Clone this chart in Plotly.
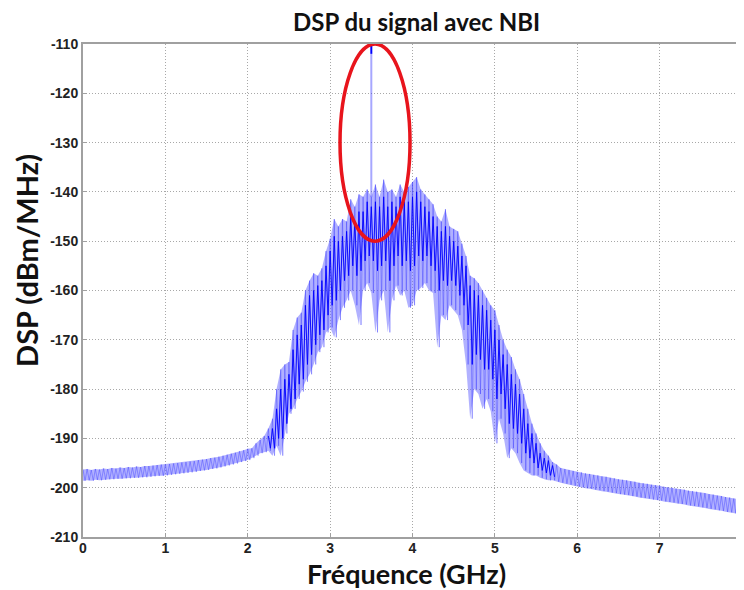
import plotly.graph_objects as go

# sampling grid of the spectrum (GHz), one step = 0.05 GHz
freq = [round(i * 0.05, 2) for i in range(161)]

# outer (light) envelope of the PSD, dBm/MHz
dsp_hi = [
    -196.3, -196.2, -196.4, -196.2, -196.3, -196.1, -196.2, -196.0, -196.1, -195.9,
    -196.0, -195.8, -195.9, -195.7, -195.8, -195.6, -195.6, -195.5, -195.4, -195.3,
    -195.3, -195.2, -195.1, -195.0, -194.9, -194.8, -194.7, -194.6, -194.4, -194.3,
    -194.2, -194.0, -193.9, -193.7, -193.5, -193.3, -193.1, -192.9, -192.6, -192.4,
    -192.1, -192.0, -191.0, -190.3, -189.5, -188.0, -186.0, -180.0, -176.0, -175.0,
    -174.5, -168.0, -165.5, -164.5, -160.0, -158.0, -156.5, -157.0, -155.5, -152.0,
    -149.5, -145.5, -147.0, -145.5, -146.0, -141.5, -143.0, -140.5, -141.0, -139.5,
    -141.0, -138.5, -141.0, -137.5, -140.0, -139.5, -141.0, -138.5, -140.0, -139.0,
    -138.0, -137.0, -139.5, -140.5, -141.5, -142.5, -145.0, -146.0, -143.5, -147.0,
    -147.5, -148.0, -150.5, -153.0, -157.0, -157.5, -158.5, -160.0, -161.5, -163.0,
    -164.0, -167.0, -170.0, -172.0, -173.5, -176.0, -178.0, -181.0, -184.0, -187.0,
    -189.0, -191.0, -192.5, -193.5, -194.8, -195.3, -196.0, -196.2, -196.4, -196.6,
    -196.8, -196.9, -197.1, -197.2, -197.4, -197.5, -197.7, -197.8, -198.0, -198.1,
    -198.3, -198.4, -198.5, -198.7, -198.8, -199.0, -199.1, -199.2, -199.4, -199.5,
    -199.6, -199.8, -199.9, -200.0, -200.2, -200.3, -200.4, -200.6, -200.7, -200.8,
    -201.0, -201.1, -201.3, -201.4, -201.6, -201.7, -201.9, -202.0, -202.2, -202.3,
    -202.5,
]
dsp_lo = [
    -198.6, -198.5, -198.6, -198.4, -198.5, -198.4, -198.3, -198.3, -198.2, -198.2,
    -198.1, -198.1, -198.0, -198.0, -197.9, -197.9, -197.8, -197.7, -197.6, -197.6,
    -197.5, -197.4, -197.3, -197.2, -197.1, -197.0, -196.9, -196.8, -196.6, -196.5,
    -196.4, -196.2, -196.1, -195.9, -195.7, -195.5, -195.3, -195.1, -194.8, -194.6,
    -194.4, -194.0, -193.5, -193.0, -192.8, -192.5, -193.5, -191.5, -193.5, -189.0,
    -185.0, -184.0, -182.0, -180.5, -178.5, -177.0, -175.0, -172.5, -171.5, -168.5,
    -167.5, -169.5, -166.0, -163.5, -162.0, -160.0, -163.0, -167.0, -160.0, -158.5,
    -160.5, -168.5, -162.0, -160.0, -168.5, -162.0, -159.0, -161.0, -160.0, -163.5,
    -163.0, -160.0, -159.5, -158.5, -160.0, -160.5, -171.5, -165.0, -166.0, -163.0,
    -164.0, -165.0, -168.0, -175.0, -186.0, -180.0, -181.0, -184.0, -182.0, -184.5,
    -191.0, -186.0, -189.0, -194.0, -192.0, -193.0, -195.0, -196.5, -197.0, -197.5,
    -197.5, -198.0, -198.3, -198.5, -198.5, -198.8, -199.0, -199.2, -199.4, -199.6,
    -199.8, -199.9, -200.1, -200.2, -200.4, -200.5, -200.7, -200.8, -201.0, -201.1,
    -201.3, -201.4, -201.5, -201.7, -201.8, -202.0, -202.1, -202.2, -202.4, -202.5,
    -202.6, -202.8, -202.9, -203.0, -203.2, -203.3, -203.4, -203.6, -203.7, -203.8,
    -204.0, -204.1, -204.3, -204.4, -204.6, -204.7, -204.9, -205.0, -205.2, -205.3,
    -205.5,
]

# dense (dark) core of the noisy band, 2.25 .. 5.70 GHz
core_freq = [round(2.25 + i * 0.05, 2) for i in range(70)]
core_hi = [
    -189.5, -188.0, -184.0, -180.0, -178.0, -177.0, -172.0, -169.0, -167.0, -163.0,
    -161.0, -160.0, -159.0, -158.0, -155.0, -152.0, -149.0, -150.0, -149.0, -148.0,
    -145.0, -146.0, -144.0, -144.0, -142.0, -143.0, -142.0, -143.0, -141.0, -143.0,
    -142.0, -143.0, -141.0, -142.0, -142.0, -141.0, -140.0, -142.0, -143.0, -144.0,
    -145.0, -147.0, -148.0, -147.0, -149.0, -150.0, -151.0, -153.0, -155.0, -159.0,
    -160.0, -161.0, -163.0, -164.0, -166.0, -168.0, -170.0, -173.0, -175.0, -177.0,
    -179.0, -181.0, -184.0, -187.0, -189.0, -191.0, -193.0, -194.0, -194.5, -195.5,
]
core_lo = [
    -192.0, -192.0, -190.0, -190.0, -187.0, -184.0, -182.0, -179.0, -178.0, -175.0,
    -173.0, -171.0, -169.0, -168.0, -165.0, -163.0, -162.0, -160.0, -158.0, -157.0,
    -155.0, -157.0, -156.0, -154.0, -153.0, -154.0, -156.0, -155.0, -154.0, -158.0,
    -155.0, -153.0, -155.0, -154.0, -156.0, -155.0, -153.0, -154.0, -153.0, -155.0,
    -156.0, -160.0, -158.0, -159.0, -158.0, -159.0, -161.0, -163.0, -167.0, -175.0,
    -173.0, -174.0, -176.0, -176.0, -178.0, -182.0, -181.0, -184.0, -187.0, -188.0,
    -189.0, -191.0, -193.0, -194.0, -195.0, -196.0, -196.5, -197.0, -197.5, -197.8,
]

# narrow-band interferer (NBI)
nbi_freq = 3.50
nbi_base = -141.0
nbi_peak = -112.0

x_ticks = [0, 1, 2, 3, 4, 5, 6, 7, 8]
y_ticks = [-210, -200, -190, -180, -170, -160, -150, -140, -130, -120, -110]
y_labels = ["-210", "-200", "-190", "-180", "-170", "-160", "-150", "-140", "-130", "-120", "-110"]


def zigzag(f, hi, lo, step=0.025):
    xs, ys = [], []
    for fi, h, l in zip(f, hi, lo):
        xs += [fi, fi + step]
        ys += [h, l]
    return xs, ys


fig = go.Figure()

# light envelope as a filled band
fig.add_trace(go.Scatter(x=freq, y=dsp_lo, mode="lines", line=dict(width=0),
                         showlegend=False, hoverinfo="skip"))
fig.add_trace(go.Scatter(x=freq, y=dsp_hi, mode="lines", line=dict(width=0),
                         fill="tonexty", fillcolor="rgba(100,100,255,0.5)",
                         showlegend=False, hoverinfo="skip"))

zx, zy = zigzag(freq, dsp_hi, dsp_lo)
fig.add_trace(go.Scatter(x=zx, y=zy, mode="lines",
                         line=dict(color="rgba(40,40,255,0.35)", width=1),
                         showlegend=False, hoverinfo="skip"))

cx, cy = zigzag(core_freq, core_hi, core_lo)
fig.add_trace(go.Scatter(x=cx, y=cy, mode="lines",
                         line=dict(color="rgba(0,0,255,0.9)", width=1),
                         showlegend=False, hoverinfo="skip"))

fig.add_trace(go.Scatter(x=[nbi_freq, nbi_freq], y=[nbi_base, nbi_peak], mode="lines",
                         line=dict(color="rgba(60,60,255,0.45)", width=2),
                         showlegend=False, hoverinfo="skip"))
fig.add_trace(go.Scatter(x=[nbi_freq, nbi_freq], y=[nbi_peak + 4, nbi_peak], mode="lines",
                         line=dict(color="#0000ff", width=2),
                         showlegend=False, hoverinfo="skip"))

# red ellipse around the interferer
fig.add_shape(type="circle", xref="x", yref="y",
              x0=3.12, x1=3.97, y0=-150, y1=-110,
              line=dict(color="#e8141c", width=3.5))

axis_common = dict(
    showline=True, linecolor="#a0a0a0", linewidth=2, mirror=True,
    showgrid=True, gridcolor="#a8a8a8", griddash="1px,2px", gridwidth=1,
    ticks="inside", ticklen=4, tickcolor="#a0a0a0", zeroline=False,
    tickfont=dict(family="Liberation Sans", size=14, color="#222222", weight="bold"),
)

fig.update_xaxes(range=[0, 8], tickvals=x_ticks, ticklabelstandoff=-3, **axis_common)
fig.update_yaxes(range=[-210, -110], tickvals=y_ticks, ticktext=y_labels, **axis_common)

# page body has an 8px margin, so the figure is shifted by 8px
fig.update_layout(
    width=736, height=582,
    margin=dict(l=75, r=0, t=36, b=53),
    plot_bgcolor="white", paper_bgcolor="white",
    annotations=[
        dict(text="DSP du signal avec NBI", xref="paper", yref="paper",
             x=0.5, xshift=4, y=1.0, yshift=23, xanchor="center", yanchor="middle",
             showarrow=False,
             font=dict(family="Lato", size=24, color="#111111", weight="bold")),
        dict(text="DSP (dBm/MHz)", xref="paper", yref="paper",
             x=0, xshift=-56, y=0.56, xanchor="center", yanchor="middle",
             textangle=-90, showarrow=False,
             font=dict(family="Lato", size=29, color="#111111", weight="bold")),
        dict(text="Fréquence (GHz)", xref="paper", yref="paper",
             x=0.491, y=0, yshift=-36, xanchor="center", yanchor="middle",
             showarrow=False,
             font=dict(family="Lato", size=27, color="#111111", weight="bold")),
    ],
)

fig.write_html("out.html")
